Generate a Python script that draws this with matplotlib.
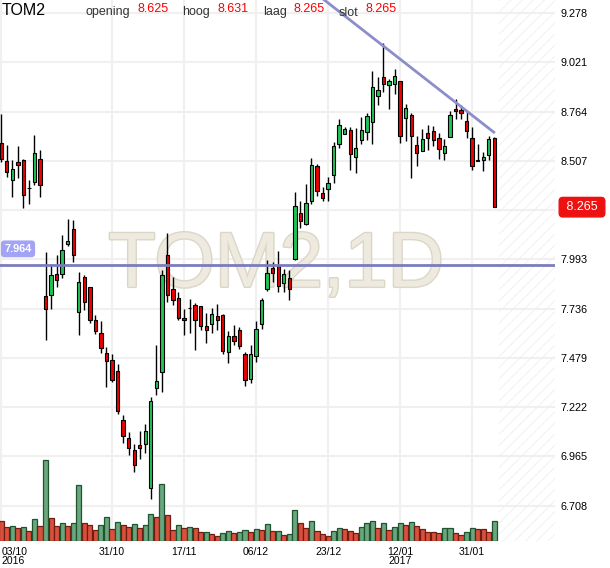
import matplotlib.pyplot as plt
import matplotlib.patheffects as pe

plt.rcParams['font.family'] = ['Liberation Sans', 'DejaVu Sans']
plt.rcParams['hatch.linewidth'] = 0.6

# dagkoersen TOM2 (03/10/2016 - 06/02/2017)
opens = [8.600, 8.508, 8.409, 8.499, 8.513, 8.367, 8.398, 8.518, 7.799, 7.808,
         7.914, 7.918, 8.072, 8.149, 7.719, 7.898, 7.846, 7.678, 7.610, 7.506,
         7.469, 7.411, 7.156, 7.062, 6.999, 7.025, 7.030, 6.799, 7.321, 7.404,
         8.013, 7.839, 7.792, 7.688, 7.740, 7.756, 7.747, 7.643, 7.657, 7.699,
         7.700, 7.509, 7.591, 7.626, 7.500, 7.370, 7.490, 7.657, 7.839, 7.949,
         7.957, 7.871, 7.895, 7.996, 8.234, 8.179, 8.297, 8.478, 8.341, 8.362,
         8.435, 8.596, 8.649, 8.666, 8.527, 8.617, 8.659, 8.711, 8.847, 8.944,
         8.904, 8.906, 8.922, 8.732, 8.748, 8.591, 8.560, 8.652, 8.664, 8.628,
         8.549, 8.633, 8.779, 8.770, 8.717, 8.628, 8.511, 8.513, 8.539, 8.625]
highs = [8.749, 8.591, 8.513, 8.582, 8.515, 8.405, 8.641, 8.561, 8.031, 7.970,
         8.017, 8.118, 8.203, 8.196, 7.926, 7.909, 7.848, 7.700, 7.670, 7.535,
         7.497, 7.444, 7.182, 7.091, 7.030, 7.096, 7.131, 7.274, 7.547, 7.935,
         8.132, 7.900, 7.822, 7.735, 7.787, 7.767, 7.750, 7.712, 7.737, 7.761,
         7.706, 7.617, 7.652, 7.639, 7.509, 7.547, 7.670, 7.789, 7.987, 7.978,
         8.036, 7.944, 7.935, 8.344, 8.297, 8.384, 8.523, 8.488, 8.370, 8.422,
         8.605, 8.727, 8.683, 8.683, 8.678, 8.735, 8.755, 8.975, 8.944, 9.122,
         8.936, 8.984, 8.925, 8.805, 8.755, 8.635, 8.675, 8.692, 8.688, 8.652,
         8.622, 8.767, 8.831, 8.796, 8.767, 8.683, 8.596, 8.553, 8.635, 8.631]
lows = [8.500, 8.422, 8.318, 8.419, 8.260, 8.283, 8.379, 8.318, 7.570, 7.735,
        7.848, 7.895, 8.062, 7.978, 7.599, 7.730, 7.660, 7.605, 7.506, 7.326,
        7.352, 7.187, 7.034, 6.973, 6.882, 6.952, 6.984, 6.743, 7.283, 7.300,
        7.770, 7.752, 7.674, 7.596, 7.608, 7.521, 7.622, 7.556, 7.608, 7.626,
        7.497, 7.451, 7.544, 7.526, 7.330, 7.347, 7.456, 7.631, 7.827, 7.874,
        7.822, 7.822, 7.782, 7.987, 8.158, 8.170, 8.283, 8.323, 8.297, 8.297,
        8.391, 8.576, 8.645, 8.457, 8.443, 8.596, 8.617, 8.596, 8.796, 8.866,
        8.779, 8.857, 8.602, 8.610, 8.419, 8.478, 8.556, 8.561, 8.582, 8.516,
        8.513, 8.629, 8.727, 8.727, 8.626, 8.461, 8.504, 8.454, 8.509, 8.265]
closes = [8.518, 8.447, 8.466, 8.487, 8.330, 8.363, 8.546, 8.382, 7.733, 7.909,
          7.887, 8.043, 8.090, 8.017, 7.876, 7.772, 7.678, 7.620, 7.532, 7.464,
          7.361, 7.200, 7.070, 7.008, 6.921, 7.008, 7.095, 7.251, 7.359, 7.913,
          7.808, 7.778, 7.686, 7.678, 7.737, 7.674, 7.643, 7.622, 7.709, 7.678,
          7.514, 7.591, 7.565, 7.540, 7.361, 7.500, 7.631, 7.778, 7.923, 7.923,
          7.853, 7.918, 7.839, 8.269, 8.192, 8.288, 8.487, 8.349, 8.312, 8.393,
          8.582, 8.696, 8.671, 8.544, 8.576, 8.666, 8.743, 8.892, 8.878, 8.906,
          8.922, 8.949, 8.636, 8.784, 8.636, 8.549, 8.622, 8.628, 8.617, 8.570,
          8.586, 8.748, 8.767, 8.758, 8.662, 8.480, 8.507, 8.527, 8.622, 8.265]

# volume (x1000)
volume = [510, 360, 385, 335, 360, 245, 560, 385, 2035, 585,
          385, 460, 385, 460, 1395, 460, 410, 285, 410, 610,
          310, 485, 410, 360, 435, 335, 410, 685, 610, 1435,
          660, 285, 410, 335, 360, 335, 235, 235, 185, 135,
          210, 260, 210, 235, 285, 235, 310, 285, 435, 260,
          260, 160, 185, 785, 460, 335, 510, 260, 185, 135,
          260, 335, 310, 260, 210, 360, 460, 510, 335, 460,
          285, 360, 460, 410, 485, 385, 310, 235, 235, 210,
          335, 335, 210, 160, 235, 335, 310, 310, 235, 510]
vol_dir = list("RRGRGRGRGR" "RGRGGRRRGG" "RGRRGRGGRG" "RRGRGRRGRR" "GGRGGRGRGR"
               "GRGGRRGRRR" "GGRRRGGGRG" "RGGRGRRRRR" "GGRRGGRRRG")

tick_idx = [0, 20, 33, 46, 59, 72, 85]
tick_labels = ['03/10\n2016', '31/10', '17/11', '06/12', '23/12', '12/01\n2017', '31/01']
price_ticks = [6.708, 6.965, 7.222, 7.479, 7.736, 7.993, 8.250, 8.507, 8.764, 9.021, 9.278]

level = 7.964
trend_x = [55, 89.1]
trend_y = [9.421, 8.652]

n = len(closes)
idx = list(range(n))

fig = plt.figure(figsize=(6.1, 5.68), dpi=100)
rect = [0, 27 / 568, 555 / 610, 541 / 568]
ax = fig.add_axes(rect)
axv = ax.twinx()

# raster
ax.set_axisbelow(True)
ax.grid(True, color='#f0f0f0', lw=1.5)
ax.axvspan(89.86, 99.96, facecolor='none', edgecolor='#efefef', hatch='///', lw=0, zorder=0.8)

ax.text(0.497, 0.508, 'TOM2,1D', transform=ax.transAxes, fontsize=56, color='#eeeadf',
        ha='center', va='center', zorder=1,
        path_effects=[pe.withStroke(linewidth=2, foreground='#dcd6c6')])

# candles
bottoms = [min(o, c) for o, c in zip(opens, closes)]
heights = [max(abs(c - o), 0.001) for o, c in zip(opens, closes)]
colors = ['#20c455' if c > o else '#ee0000' for o, c in zip(opens, closes)]
ax.vlines(idx, lows, highs, color='black', lw=1, zorder=2)
ax.bar(idx, heights, bottom=bottoms, width=0.6, color=colors, edgecolor='black',
       linewidth=0.8, zorder=3)

# lijnen
ax.axhline(level, color='#7b7bbd', lw=2, zorder=4)
ax.plot(trend_x, trend_y, color='#8d8dcc', lw=2, zorder=4, solid_capstyle='butt')

ax.annotate(f'{level:.3f}', xy=(0, level), xycoords=('axes fraction', 'data'),
            xytext=(18, 16), textcoords='offset pixels', ha='center', va='center',
            fontsize=7.8, fontweight='bold', color='white', annotation_clip=False,
            bbox=dict(boxstyle='round,pad=0.25', fc='#a3a3f5', ec='#a3a3f5'), zorder=6)

ax.annotate(f' {closes[-1]:.3f} ', xy=(1, closes[-1]), xycoords=('axes fraction', 'data'),
            xytext=(27, 0), textcoords='offset pixels', ha='center', va='center',
            fontsize=9, color='white', annotation_clip=False,
            bbox=dict(boxstyle='round,pad=0.3', fc='#ee1111', ec='#ee1111'), zorder=6)

# volume
vfc = ['#6aa67e' if d == 'G' else '#d9503c' for d in vol_dir]
vec = ['#1e5530' if d == 'G' else '#701c12' for d in vol_dir]
axv.bar(idx, volume, width=0.92, color=vfc, edgecolor=vec, linewidth=0.9)
axv.set_ylim(0, max(volume) / 0.15)
axv.set_yticks([])

ax.set_xlim(-0.22, 99.96)
ax.set_ylim(6.523, 9.346)
ax.set_yticks(price_ticks)
# label onder de koers-tag blijft leeg
ax.set_yticklabels(['' if abs(p - closes[-1]) < 0.03 else f'{p:.3f}' for p in price_ticks])
ax.yaxis.tick_right()
ax.tick_params(axis='y', length=0, pad=4, labelsize=7.8)
ax.set_xticks(tick_idx)
ax.set_xticklabels(tick_labels)
ax.tick_params(axis='x', length=0, pad=4, labelsize=7.5)
for lab in ax.get_xticklabels():
    lab.set_linespacing(0.95)
ax.get_xticklabels()[0].set_ha('left')

for a in (ax, axv):
    for s in a.spines.values():
        s.set_visible(False)

# kop
fig.text(2 / 610, 1 - 15 / 568, 'TOM2', fontsize=11.5, va='baseline')
head = [('opening', opens[-1], 86, 137), ('hoog', highs[-1], 182, 217),
        ('laag', lows[-1], 263, 293), ('slot', closes[-1], 339, 365)]
for name, val, xl, xv in head:
    fig.text(xl / 610, 1 - 15.5 / 568, name, fontsize=9, color='#333333', va='baseline')
    fig.text(xv / 610, 1 - 12 / 568, f'{val:.3f}', fontsize=9, color='#ff0000', va='baseline')

plt.savefig('out.png', dpi=100)
